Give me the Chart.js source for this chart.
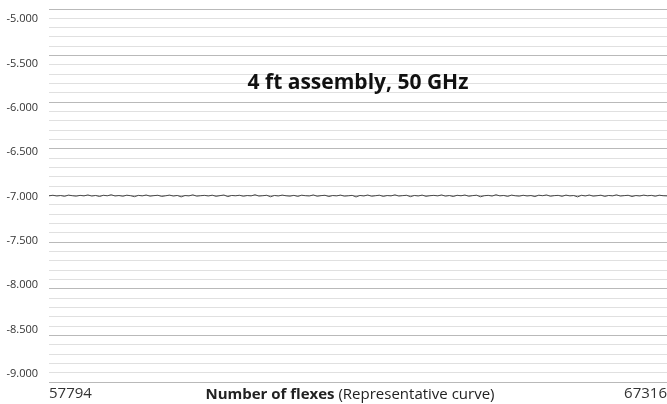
<!DOCTYPE html>
<html>
<head>
<meta charset="utf-8">
<script src="https://cdn.jsdelivr.net/npm/chart.js@4.4.1/dist/chart.umd.min.js"></script>
<style>
  html, body { margin: 0; padding: 0; background: #fff; }
  #wrap { width: 667px; height: 404px; position: relative; }
</style>
</head>
<body>
<div id="wrap"><canvas id="chart"></canvas></div>
<script>
'use strict';

// ── Datos ─────────────────────────
const CHART_TITLE = '4 ft assembly, 50 GHz';
const X_CAPTION_BOLD = 'Number of flexes';
const X_CAPTION_REST = ' (Representative curve)';
const FLEX_MIN = 57794;
const FLEX_MAX = 67316;
const Y_MIN = -9.09;
const Y_MAX = -4.887;
const Y_TICKS = [-9.0, -8.5, -8.0, -7.5, -7.0, -6.5, -6.0, -5.5, -5.0];
// pérdida (dB) a lo largo del ensayo, ~plana en -7.000
const LOSS = [
  -6.992,-6.986,-6.994,-6.989,-6.998,-6.984,-6.991,-6.996,-6.987,-6.993,
  -6.982,-6.995,-6.988,-7.000,-6.986,-6.992,-6.980,-6.994,-6.989,-6.997,
  -6.985,-6.991,-7.002,-6.987,-6.993,-6.983,-6.996,-6.990,-6.986,-6.999,
  -6.992,-6.984,-6.995,-6.988,-7.004,-6.989,-6.993,-6.981,-6.996,-6.991,
  -6.987,-6.994,-6.985,-6.998,-6.990,-6.983,-7.001,-6.988,-6.992,-6.986,
  -6.997,-6.989,-6.993,-6.980,-6.995,-6.991,-6.986,-7.003,-6.988,-6.994,
  -6.984,-6.992,-6.996,-6.987,-6.999,-6.985,-6.991,-6.994,-6.982,-6.997,
  -6.990,-6.986,-7.000,-6.989,-6.993,-6.984,-6.996,-6.992,-6.987,-7.005,
  -6.988,-6.994,-6.983,-6.997,-6.991,-6.985,-6.999,-6.989,-6.993,-6.981,
  -6.995,-6.990,-6.986,-7.002,-6.988,-6.994,-6.984,-6.998,-6.991,-6.987,
  -6.993,-6.982,-6.996,-6.989,-7.000,-6.986,-6.992,-6.983,-6.997,-6.990,
  -6.985,-7.003,-6.991,-6.987,-6.995,-6.980,-6.993,-6.988,-6.999,-6.984,
  -6.992,-6.996,-6.986,-6.994,-6.989,-7.001,-6.985,-6.991,-6.982,-6.997,
  -6.990,-6.987,-6.998,-6.984,-6.993,-6.989,-7.004,-6.986,-6.994,-6.983,
  -6.996,-6.991,-6.985,-6.999,-6.988,-6.993,-6.981,-6.995,-6.990,-6.986,
  -7.000,-6.989,-6.994,-6.984,-6.992,-6.987,-6.997,-6.985,-6.991,-6.993
];

// rejilla: 40 divisiones, línea más oscura cada 5
const GRID_DIVISIONS = 40;
const GRID_MAJOR_EVERY = 5;

const FONT = "'Open Sans', 'Noto Sans', sans-serif";
const flexStep = (FLEX_MAX - FLEX_MIN) / (LOSS.length - 1);
const points = LOSS.map((v, i) => ({ x: FLEX_MIN + i * flexStep, y: v }));

// ── Textos dentro del gráfico ─────
const textPlugin = {
  id: 'texts',
  afterDraw(chart) {
    const { ctx, chartArea } = chart;
    const cx = (chartArea.left + chartArea.right) / 2;
    ctx.save();
    ctx.fillStyle = '#111';
    ctx.textBaseline = 'middle';
    ctx.textAlign = 'center';
    ctx.font = `bold 21px ${FONT}`;
    ctx.fillText(CHART_TITLE, cx, chartArea.top + 74);

    // pie del eje x: parte en negrita + parte normal
    ctx.textAlign = 'left';
    ctx.font = `bold 15px ${FONT}`;
    const wBold = ctx.measureText(X_CAPTION_BOLD).width;
    ctx.font = `15px ${FONT}`;
    const wRest = ctx.measureText(X_CAPTION_REST).width;
    const x0 = cx - 8 - (wBold + wRest) / 2;
    const y = chartArea.bottom + 13;
    ctx.font = `bold 15px ${FONT}`;
    ctx.fillStyle = '#222';
    ctx.fillText(X_CAPTION_BOLD, x0, y);
    ctx.font = `15px ${FONT}`;
    ctx.fillText(X_CAPTION_REST, x0 + wBold, y);
    ctx.restore();
  }
};

new Chart(document.getElementById('chart'), {
  type: 'line',
  data: {
    datasets: [{
      data: points,
      borderColor: '#4a4a4a',
      borderWidth: 1,
      pointRadius: 0,
      tension: 0,
      fill: false,
      yAxisID: 'y'
    }]
  },
  options: {
    responsive: true,
    maintainAspectRatio: false,
    animation: false,
    layout: { padding: { top: 9, right: 0, left: 0, bottom: 0 } },
    plugins: { legend: { display: false }, tooltip: { enabled: false } },
    scales: {
      x: {
        type: 'linear',
        min: FLEX_MIN,
        max: FLEX_MAX,
        afterBuildTicks: (s) => { s.ticks = [{ value: FLEX_MIN }, { value: FLEX_MAX }]; },
        afterFit: (s) => { s.height = 22; s.paddingLeft = 0; s.paddingRight = 0; },
        grid: { display: false, drawTicks: false },
        border: { display: false },
        ticks: {
          align: 'inner',
          padding: 3,
          maxRotation: 0,
          color: '#333',
          font: { family: FONT, size: 15 },
          callback: (v) => String(v)
        }
      },
      g: {
        type: 'linear',
        position: 'left',
        min: 0,
        max: GRID_DIVISIONS,
        afterBuildTicks: (s) => {
          const t = [];
          for (let i = 0; i <= GRID_DIVISIONS; i++) t.push({ value: i });
          s.ticks = t;
        },
        afterFit: (s) => { s.width = 0; s.paddingTop = 0; s.paddingBottom = 0; },
        ticks: { display: false },
        border: { display: false },
        grid: {
          drawTicks: false,
          lineWidth: 1,
          color: (c) => (c.tick && c.tick.value % GRID_MAJOR_EVERY === 0) ? '#b9b9b9' : '#e0e0e0'
        }
      },
      y: {
        type: 'linear',
        position: 'left',
        min: Y_MIN,
        max: Y_MAX,
        afterBuildTicks: (s) => { s.ticks = Y_TICKS.map(v => ({ value: v })); },
        afterFit: (s) => { s.width = 49; s.paddingTop = 0; s.paddingBottom = 0; },
        grid: { display: false, drawTicks: false },
        border: { display: false },
        ticks: {
          padding: 11,
          color: '#333',
          font: { family: FONT, size: 11 },
          callback: (v) => v.toFixed(3)
        }
      }
    }
  },
  plugins: [textPlugin]
});
</script>
</body>
</html>
